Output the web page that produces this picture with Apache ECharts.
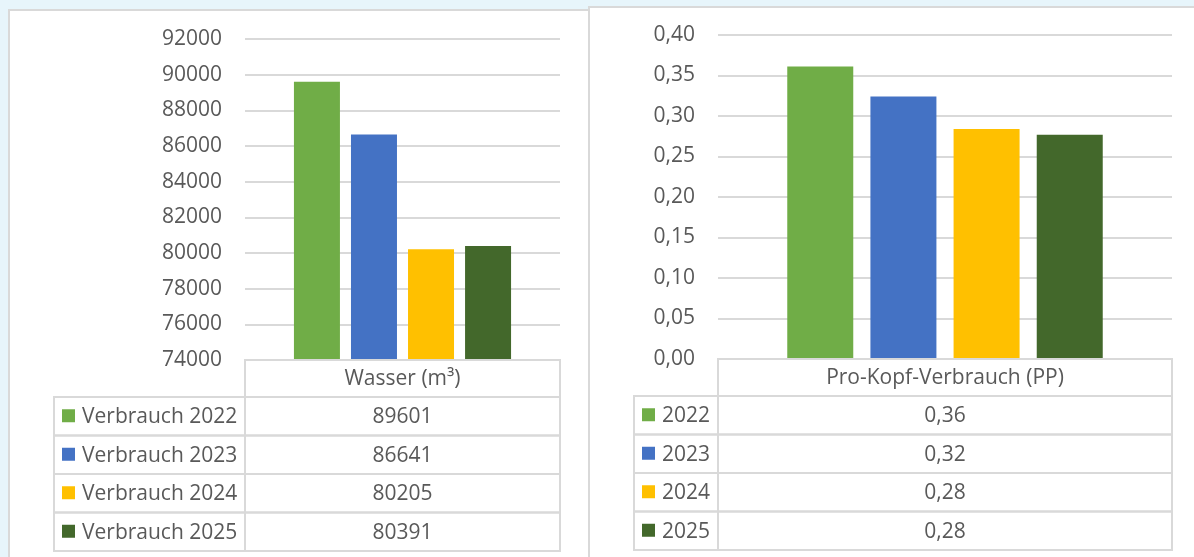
<!DOCTYPE html>
<html>
<head>
<meta charset="utf-8">
<script src="https://cdn.jsdelivr.net/npm/echarts@6/dist/echarts.min.js"></script>
<style>
  html, body { margin: 0; padding: 0; background: #E7F5FB; }
  #wrap { position: relative; width: 1194px; height: 557px; overflow: hidden; }
  .panel { position: absolute; background: #FFFFFF; border: 2px solid #D9D9D9; box-sizing: border-box; }
  #chart { position: absolute; left: 0; top: 0; width: 1194px; height: 557px; }
</style>
</head>
<body>
<div id="wrap">
  <div class="panel" style="left:8px; top:9px; width:590px; height:600px;"></div>
  <div class="panel" style="left:588px; top:6px; width:620px; height:600px;"></div>
  <div id="chart"></div>
</div>
<script>
// ---- Data ----
const leftCategory = ['Wasser (m³)'];
const leftSeriesNames = ['Verbrauch 2022', 'Verbrauch 2023', 'Verbrauch 2024', 'Verbrauch 2025'];
const leftValues = [89601, 86641, 80205, 80391];

const rightCategory = ['Pro-Kopf-Verbrauch (PP)'];
const rightSeriesNames = ['2022', '2023', '2024', '2025'];
const rightValues = [0.361, 0.324, 0.284, 0.277];

const colors = ['#70AD47', '#4472C4', '#FFC000', '#43682B'];

// ---- Layout ----
const FONT = '"Open Sans", "Noto Sans", sans-serif';
const TXT = '#595959';
const LINE = '#D9D9D9';
const FS = 21;

const G1 = { left: 245, top: 39, width: 315, height: 321 };
const G2 = { left: 718, top: 35, width: 454, height: 324 };
const T1 = { labelLeft: 54 };
const T2 = { labelLeft: 634 };
const HEADER_H = 37;
const ROW_H = 38.5;

function fmtComma(v) { return v.toFixed(2).replace('.', ','); }

const series = [];
leftValues.forEach((v, i) => {
  series.push({
    type: 'bar', name: leftSeriesNames[i], xAxisIndex: 0, yAxisIndex: 0,
    data: [v], barWidth: 46, barGap: '24%',
    itemStyle: { color: colors[i] }, silent: true
  });
});
rightValues.forEach((v, i) => {
  series.push({
    type: 'bar', name: rightSeriesNames[i], xAxisIndex: 1, yAxisIndex: 1,
    data: [v], barWidth: 66, barGap: '26%',
    itemStyle: { color: colors[i] }, silent: true
  });
});

// ---- Data table graphics ----
const graphics = [];
function cell(x, y, w, h) {
  graphics.push({ type: 'rect', z: 20, shape: { x: x, y: y, width: w, height: h },
    style: { fill: null, stroke: LINE, lineWidth: 2 } });
}
function text(str, x, y, align) {
  graphics.push({ type: 'text', z: 21, x: x, y: y,
    style: { text: str, fill: TXT, font: FS + 'px ' + FONT, align: align, verticalAlign: 'middle' } });
}
function buildTable(G, T, names, vals, fmt) {
  const top = G.top + G.height;
  cell(G.left, top, G.width, HEADER_H);
  names.forEach((n, i) => {
    const y = top + HEADER_H + i * ROW_H;
    cell(T.labelLeft, y, G.left - T.labelLeft, ROW_H);
    cell(G.left, y, G.width, ROW_H);
    graphics.push({ type: 'rect', z: 21,
      shape: { x: T.labelLeft + 8, y: y + ROW_H / 2 - 7, width: 13, height: 13 },
      style: { fill: colors[i] } });
    text(n, T.labelLeft + 28, y + ROW_H / 2 + 1, 'left');
    text(fmt(vals[i]), G.left + G.width / 2, y + ROW_H / 2 + 1, 'center');
  });
}
buildTable(G1, T1, leftSeriesNames, leftValues, v => String(v));
buildTable(G2, T2, rightSeriesNames, rightValues, fmtComma);

const axisLabelStyle = { color: TXT, fontSize: FS, fontFamily: FONT };

const option = {
  backgroundColor: 'transparent',
  animation: false,
  grid: [
    { left: G1.left, top: G1.top, width: G1.width, height: G1.height },
    { left: G2.left, top: G2.top, width: G2.width, height: G2.height }
  ],
  xAxis: [
    { type: 'category', gridIndex: 0, data: leftCategory,
      axisLine: { show: false }, axisTick: { show: false },
      axisLabel: Object.assign({ margin: HEADER_H / 2 + 1, verticalAlign: 'middle' }, axisLabelStyle) },
    { type: 'category', gridIndex: 1, data: rightCategory,
      axisLine: { show: false }, axisTick: { show: false },
      axisLabel: Object.assign({ margin: HEADER_H / 2 + 1, verticalAlign: 'middle' }, axisLabelStyle) }
  ],
  yAxis: [
    { type: 'value', gridIndex: 0, min: 74000, max: 92000, interval: 2000,
      axisLine: { show: false }, axisTick: { show: false },
      splitLine: { lineStyle: { color: LINE, width: 2 } },
      axisLabel: Object.assign({ margin: 23, formatter: v => String(v) }, axisLabelStyle) },
    { type: 'value', gridIndex: 1, min: 0, max: 0.4, interval: 0.05,
      axisLine: { show: false }, axisTick: { show: false },
      splitLine: { lineStyle: { color: LINE, width: 2 } },
      axisLabel: Object.assign({ margin: 23, formatter: v => fmtComma(v) }, axisLabelStyle) }
  ],
  series: series,
  graphic: { elements: graphics }
};

const chart = echarts.init(document.getElementById('chart'), null, { renderer: 'canvas' });
chart.setOption(option);
</script>
</body>
</html>
